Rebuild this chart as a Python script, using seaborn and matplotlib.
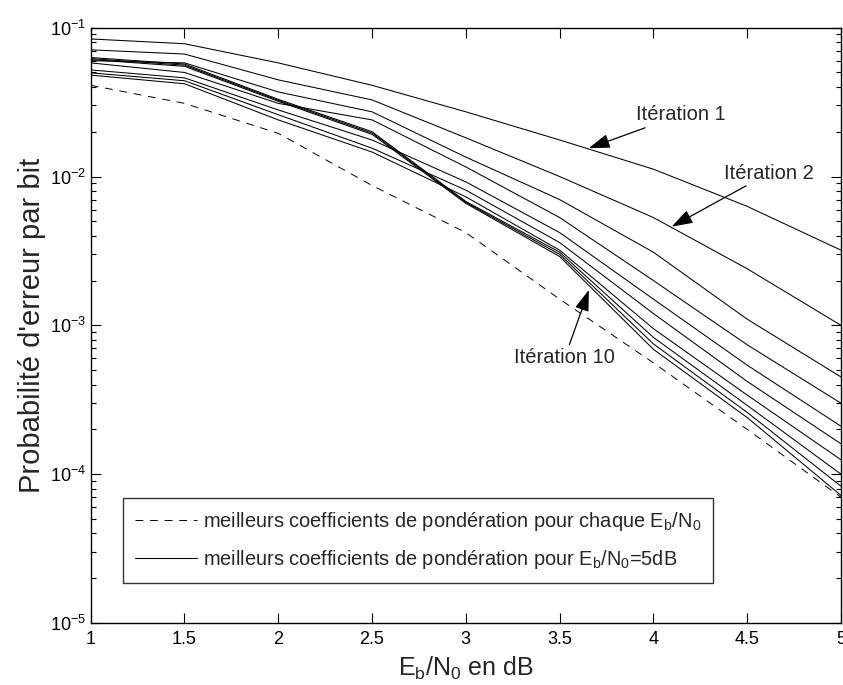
import matplotlib
matplotlib.use("Agg")
import matplotlib.pyplot as plt
from matplotlib.lines import Line2D
import numpy as np
import pandas as pd
import seaborn as sns

# Eb/N0 grid (dB)
ebn0 = [1.0, 1.5, 2.0, 2.5, 3.0, 3.5, 4.0, 4.5, 5.0]

# Bit error rate per decoder iteration, weights tuned at Eb/N0 = 5 dB
iter_1 = [0.084, 0.078, 0.058, 0.041, 0.0272, 0.0176, 0.0112, 0.0063, 0.0032]
iter_2 = [0.071, 0.0665, 0.0446, 0.0327, 0.0182, 0.0100, 0.0053, 0.0024, 0.0010]
iter_3 = [0.060, 0.058, 0.037, 0.0272, 0.0135, 0.0070, 0.0031, 0.0011, 0.00045]
iter_4 = [0.058, 0.050, 0.031, 0.024, 0.0116, 0.0053, 0.0020, 0.00074, 0.00030]
iter_5 = [0.052, 0.046, 0.028, 0.0176, 0.0092, 0.0042, 0.0015, 0.00054, 0.00021]
iter_6 = [0.0497, 0.044, 0.026, 0.0155, 0.0081, 0.0036, 0.0012, 0.00042, 0.00016]
iter_7 = [0.048, 0.042, 0.024, 0.0146, 0.0073, 0.0032, 0.00095, 0.00034, 0.000125]
iter_8 = [0.063, 0.057, 0.033, 0.0200, 0.0068, 0.0031, 0.00083, 0.00029, 0.000100]
iter_9 = [0.062, 0.056, 0.0325, 0.0196, 0.0067, 0.0030, 0.00075, 0.00026, 0.000083]
iter_10 = [0.061, 0.055, 0.032, 0.0192, 0.0066, 0.0029, 0.00069, 0.00024, 0.000072]

# Best weights re-optimised for every Eb/N0
best_each = [0.041, 0.031, 0.0195, 0.0087, 0.0042, 0.0015, 0.00056, 0.00020, 0.000070]

y_ticks = [1e-5, 1e-4, 1e-3, 1e-2, 1e-1]
x_ticks = [1, 1.5, 2, 2.5, 3, 3.5, 4, 4.5, 5]

series = [iter_1, iter_2, iter_3, iter_4, iter_5, iter_6, iter_7, iter_8, iter_9, iter_10]
df = pd.DataFrame({
    "ebn0": np.tile(ebn0, len(series)),
    "ber": np.concatenate(series),
    "iteration": np.repeat(np.arange(1, len(series) + 1), len(ebn0)),
})
df_best = pd.DataFrame({"ebn0": ebn0, "ber": best_each})

sns.set_theme(style="ticks")
plt.rcParams["font.family"] = ["Liberation Sans", "DejaVu Sans"]
plt.rcParams["mathtext.default"] = "regular"

fig = plt.figure(figsize=(8.43, 6.85), dpi=100)
ax = fig.add_axes([0.1076, 0.0905, 0.8900, 0.8691])

sns.lineplot(data=df, x="ebn0", y="ber", units="iteration", estimator=None,
             color="black", lw=0.75, ax=ax, legend=False)
sns.lineplot(data=df_best, x="ebn0", y="ber", color="black", lw=0.7,
             linestyle=(0, (8, 7)), ax=ax, legend=False)

ax.set_yscale("log")
ax.set_xlim(1, 5)
ax.set_ylim(1e-5, 1e-1)
ax.set_xticks(x_ticks)
ax.set_xticklabels([f"{t:g}" for t in x_ticks])
ax.set_yticks(y_ticks)

ax.tick_params(which="both", direction="in", top=True, right=True,
               labelsize=13, colors="black")
ax.tick_params(which="major", length=7, width=0.8)
ax.tick_params(axis="x", which="major", pad=6)
ax.tick_params(which="minor", length=3.5, width=0.8)
for s in ax.spines.values():
    s.set_color("black")
    s.set_linewidth(1.0)

ax.set_xlabel("$E_b/N_0$ en dB", fontsize=18, labelpad=5)
ax.set_ylabel("Probabilité d'erreur par bit", fontsize=21, labelpad=3)

arrow = dict(arrowstyle="-|>,head_length=0.9,head_width=0.3", color="black",
             lw=0.9, shrinkA=0, shrinkB=0)
ax.annotate("Itération 1", xy=(3.655, 0.0155), xytext=(4.145, 0.0259),
            fontsize=14.5, ha="center", va="center", arrowprops=arrow)
ax.annotate("Itération 2", xy=(4.097, 0.0046), xytext=(4.618, 0.01055),
            fontsize=14.5, ha="center", va="center", arrowprops=arrow)
ax.annotate("Itération 10", xy=(3.656, 0.00173), xytext=(3.528, 0.00061),
            fontsize=14.5, ha="center", va="center", arrowprops=arrow)

handles = [
    Line2D([], [], color="black", lw=0.7, linestyle=(0, (8, 7))),
    Line2D([], [], color="black", lw=0.75),
]
labels = [
    "meilleurs coefficients de pondération pour chaque $E_b/N_0$",
    "meilleurs coefficients de pondération pour $E_b/N_0$=5dB",
]
leg = ax.legend(handles, labels, loc="lower left", bbox_to_anchor=(0.043, 0.067),
                fontsize=14.4, frameon=True, fancybox=False, handlelength=3.1,
                handletextpad=0.3, labelspacing=0.75, borderpad=0.6,
                borderaxespad=0)
leg.get_frame().set_edgecolor("black")
leg.get_frame().set_linewidth(1.0)

fig.savefig("out.png", dpi=100, facecolor="white")
